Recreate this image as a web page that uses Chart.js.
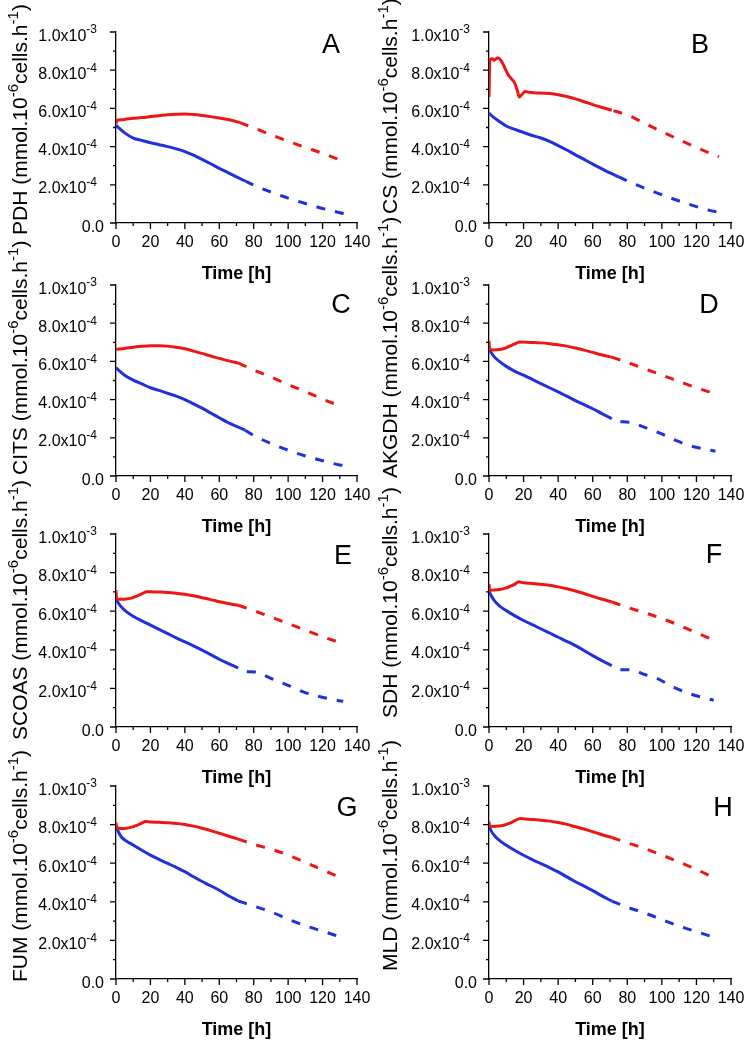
<!DOCTYPE html>
<html>
<head>
<meta charset="utf-8">
<script src="https://cdn.jsdelivr.net/npm/chart.js@4.4.0/dist/chart.umd.min.js"></script>
<style>
html, body { margin: 0; padding: 0; background: #fff; }
#wrap { position: relative; width: 753px; height: 1045px; overflow: hidden; background: #fff; }
#wrap canvas { position: absolute; }
</style>
</head>
<body>
<div id="wrap"></div>
<script>
// values are [time (h), rate in units of 1e-4 mmol.10^-6 cells.h^-1]
const UNIT = 1e-4;

const xMajor = [0, 20, 40, 60, 80, 100, 120, 140];
const xMinor = [10, 30, 50, 70, 90, 110, 130];
const yMajor = [0, 2e-4, 4e-4, 6e-4, 8e-4, 1e-3];
const yMinor = [1e-4, 3e-4, 5e-4, 7e-4, 9e-4];

const pdhRed = [[0,5.2],[0.5,5.38],[3,5.4],[6,5.44],[10,5.48],[15,5.52],[20,5.57],[25,5.62],[30,5.67],[35,5.7],[40,5.71],[45,5.68],[50,5.63],[55,5.57],[60,5.5],[65,5.42],[70,5.31],[72,5.26]];
const pdhRedDash = [[72,5.26],[80,4.98],[90,4.62],[100,4.28],[110,3.96],[120,3.65],[131,3.27]];
const pdhBlue = [[0,5.12],[2,4.95],[5,4.72],[10,4.45],[15,4.32],[20,4.2],[25,4.1],[30,4.0],[35,3.88],[40,3.74],[45,3.55],[50,3.33],[55,3.1],[60,2.86],[65,2.64],[70,2.42],[75,2.2]];
const pdhBlueDash = [[75,2.2],[80,1.98],[90,1.62],[100,1.3],[110,1.02],[120,0.76],[130,0.54],[135,0.45]];

const csRed = [[0,6.6],[0.5,8.55],[2,8.6],[3,8.52],[5,8.65],[7,8.5],[9,8.15],[11,7.78],[13,7.55],[15,7.3],[16.5,6.9],[17.5,6.6],[19,6.72],[21,6.88],[23,6.85],[26,6.82],[30,6.8],[35,6.78],[40,6.72],[45,6.62],[50,6.5],[55,6.35],[60,6.2],[65,6.06],[71,5.9]];
const csRedDash = [[72,5.88],[80,5.66],[90,5.22],[100,4.78],[110,4.36],[120,3.96],[133,3.46]];
const csBlue = [[0,5.75],[2,5.58],[5,5.38],[10,5.08],[15,4.9],[20,4.74],[25,4.58],[30,4.45],[35,4.27],[40,4.05],[45,3.82],[50,3.57],[55,3.33],[60,3.08],[65,2.85],[70,2.62],[75,2.42]];
const csBlueDash = [[75,2.42],[80,2.2],[90,1.82],[100,1.48],[110,1.15],[120,0.86],[128,0.65],[135,0.53]];

const citsRed = [[0,6.63],[5,6.68],[10,6.74],[15,6.79],[20,6.82],[25,6.82],[30,6.8],[35,6.74],[40,6.66],[45,6.54],[50,6.42],[55,6.28],[60,6.16],[65,6.04],[71,5.92]];
const citsRedDash = [[71,5.92],[80,5.55],[90,5.18],[100,4.79],[110,4.42],[120,4.03],[131,3.62]];
const citsBlue = [[0,5.68],[2,5.5],[5,5.28],[10,5.02],[15,4.82],[20,4.62],[25,4.48],[30,4.33],[35,4.18],[40,4.0],[45,3.78],[50,3.55],[55,3.3],[60,3.05],[65,2.8],[70,2.6],[75,2.4]];
const citsBlueDash = [[75,2.4],[80,2.12],[90,1.7],[100,1.35],[110,1.05],[120,0.8],[130,0.58],[135,0.52]];

const akgdhRed = [[0,7.08],[0.4,6.62],[3,6.6],[6,6.62],[9,6.68],[12,6.8],[15,6.92],[18,7.02],[22,7.0],[26,6.99],[30,6.97],[35,6.93],[40,6.87],[45,6.8],[50,6.7],[55,6.59],[60,6.47],[65,6.35],[71,6.22]];
const akgdhRedDash = [[71,6.22],[80,5.95],[90,5.62],[100,5.28],[110,4.95],[120,4.62],[131,4.3]];
const akgdhBlue = [[0,6.68],[1,6.5],[3,6.24],[6,6.0],[10,5.74],[15,5.48],[20,5.28],[25,5.06],[30,4.84],[35,4.62],[40,4.4],[45,4.18],[50,3.95],[55,3.74],[60,3.52],[65,3.28],[71,3.0]];
const akgdhBlueDash = [[76,2.84],[81,2.82],[90,2.55],[100,2.2],[108,1.86],[117,1.57],[125,1.4],[131,1.3]];

const scoasRed = [[0,7.08],[0.4,6.62],[3,6.62],[6,6.63],[9,6.68],[12,6.78],[15,6.9],[18,7.01],[22,7.0],[26,6.99],[30,6.97],[35,6.93],[40,6.88],[45,6.8],[50,6.7],[55,6.6],[60,6.49],[65,6.4],[71,6.31]];
const scoasRedDash = [[71,6.31],[80,6.03],[90,5.7],[100,5.36],[110,5.02],[120,4.68],[131,4.35]];
const scoasBlue = [[0,6.65],[1,6.48],[3,6.23],[6,5.98],[10,5.74],[15,5.5],[20,5.28],[25,5.06],[30,4.84],[35,4.62],[40,4.41],[45,4.2],[50,3.98],[55,3.75],[60,3.51],[65,3.3],[71,3.06]];
const scoasBlueDash = [[76,2.86],[81,2.85],[90,2.52],[100,2.16],[108,1.85],[117,1.6],[125,1.44],[132,1.33]];

const sdhRed = [[0,7.4],[0.4,7.08],[3,7.1],[6,7.12],[9,7.18],[12,7.28],[15,7.4],[17,7.52],[20,7.47],[25,7.44],[30,7.4],[35,7.34],[40,7.26],[45,7.16],[50,7.05],[55,6.92],[60,6.77],[65,6.63],[71,6.48]];
const sdhRedDash = [[71,6.48],[80,6.2],[90,5.92],[100,5.62],[110,5.27],[120,4.88],[131,4.46]];
const sdhBlue = [[0,7.05],[1,6.85],[3,6.56],[6,6.28],[10,6.03],[15,5.76],[20,5.52],[25,5.3],[30,5.09],[35,4.87],[40,4.65],[45,4.44],[50,4.22],[55,3.96],[60,3.7],[65,3.45],[71,3.18]];
const sdhBlueDash = [[76,2.97],[83,2.95],[90,2.72],[96,2.57],[107,2.05],[117,1.7],[125,1.5],[130,1.39]];

const fumRed = [[0,8.1],[0.4,7.82],[3,7.8],[6,7.81],[9,7.87],[12,7.96],[15,8.08],[17,8.16],[20,8.14],[25,8.12],[30,8.1],[35,8.06],[40,8.01],[45,7.92],[50,7.81],[55,7.69],[60,7.55],[65,7.41],[71,7.25]];
const fumRedDash = [[71,7.25],[80,6.98],[90,6.73],[100,6.42],[110,6.04],[120,5.66],[131,5.22]];
const fumBlue = [[0,7.95],[1,7.7],[3,7.37],[6,7.15],[10,6.94],[15,6.67],[20,6.42],[25,6.2],[30,5.99],[35,5.78],[40,5.56],[45,5.3],[50,5.05],[55,4.83],[60,4.6],[65,4.33],[71,4.04]];
const fumBlueDash = [[71,4.04],[80,3.78],[90,3.48],[100,3.1],[110,2.76],[120,2.48],[131,2.16]];

const mldRed = [[0,8.15],[0.4,7.94],[3,7.9],[6,7.93],[9,7.98],[12,8.08],[15,8.2],[18,8.32],[20,8.3],[25,8.27],[30,8.23],[35,8.18],[40,8.11],[45,8.01],[50,7.89],[55,7.77],[60,7.63],[65,7.49],[71,7.33]];
const mldRedDash = [[71,7.33],[80,7.06],[90,6.76],[100,6.42],[110,6.06],[120,5.68],[130,5.25]];
const mldBlue = [[0,7.98],[1,7.72],[3,7.45],[6,7.18],[10,6.93],[15,6.66],[20,6.41],[25,6.19],[30,5.98],[35,5.77],[40,5.55],[45,5.29],[50,5.04],[55,4.81],[60,4.58],[65,4.32],[71,4.04]];
const mldBlueDash = [[71,4.04],[80,3.72],[90,3.42],[100,3.08],[110,2.74],[120,2.45],[130,2.17]];

const panels = [
  { name: 'PDH',   letter: 'A', red: pdhRed,   redDash: pdhRedDash,   blue: pdhBlue,   blueDash: pdhBlueDash },
  { name: 'CS',    letter: 'B', red: csRed,    redDash: csRedDash,    blue: csBlue,    blueDash: csBlueDash },
  { name: 'CITS',  letter: 'C', red: citsRed,  redDash: citsRedDash,  blue: citsBlue,  blueDash: citsBlueDash },
  { name: 'AKGDH', letter: 'D', red: akgdhRed, redDash: akgdhRedDash, blue: akgdhBlue, blueDash: akgdhBlueDash },
  { name: 'SCOAS', letter: 'E', red: scoasRed, redDash: scoasRedDash, blue: scoasBlue, blueDash: scoasBlueDash },
  { name: 'SDH',   letter: 'F', red: sdhRed,   redDash: sdhRedDash,   blue: sdhBlue,   blueDash: sdhBlueDash },
  { name: 'FUM',   letter: 'G', red: fumRed,   redDash: fumRedDash,   blue: fumBlue,   blueDash: fumBlueDash },
  { name: 'MLD',   letter: 'H', red: mldRed,   redDash: mldRedDash,   blue: mldBlue,   blueDash: mldBlueDash }
];

// page layout of each plot box, the panel letter offset and where the y title starts
const colLeft = [116, 489], colWidth = [241, 242];
const rowTop = [32, 285, 534, 786], rowHeight = [191, 191, 193, 193];
const letterPos = [[-26, 11], [-31, 11], [-16, 18], [-22, 18], [-14, 20], [-17, 19], [-10, 20], [-8, 20]];
const titleStart = [12, -9, -1, 2, 13, -9, 3, -8];
const titleGap = [89, 92];

const RED = '#ee1515';
const BLUE = '#1f30dc';
const FONT = '"Liberation Sans", Arial, sans-serif';
const PAD_TOP = 70, X_AXIS_H = 70, PAD_RIGHT = 24;

function drawRich(ctx, parts, x, y, size, bold) {
  let cx = x;
  parts.forEach(p => {
    const s = p[1] ? Math.round(size * 0.72) : size;
    ctx.font = (bold ? 'bold ' : '') + s + 'px ' + FONT;
    ctx.fillText(p[0], cx, p[1] ? y - size * 0.45 : y);
    cx += ctx.measureText(p[0]).width;
  });
  return cx - x;
}
function richWidth(ctx, parts, size) {
  let w = 0;
  parts.forEach(p => {
    ctx.font = (p[1] ? Math.round(size * 0.72) : size) + 'px ' + FONT;
    w += ctx.measureText(p[0]).width;
  });
  return w;
}
function yLabel(v) {
  if (v === 0) return [['0.0', 0]];
  const e = Math.floor(Math.log10(v) + 1e-9);
  const m = v / Math.pow(10, e);
  return [[m.toFixed(1) + 'x10', 0], [String(e), 1]];
}

const axisDecor = {
  id: 'axisDecor',
  afterDraw(chart, args, opts) {
    const ctx = chart.ctx, a = chart.chartArea, xs = chart.scales.x, ys = chart.scales.y;
    ctx.save();
    ctx.strokeStyle = '#000';
    ctx.fillStyle = '#000';
    ctx.lineWidth = 1.3;
    ctx.textBaseline = 'alphabetic';
    ctx.beginPath();
    xMajor.forEach(t => { const px = xs.getPixelForValue(t); ctx.moveTo(px, a.bottom); ctx.lineTo(px, a.bottom + 6); });
    xMinor.forEach(t => { const px = xs.getPixelForValue(t); ctx.moveTo(px, a.bottom); ctx.lineTo(px, a.bottom + 3); });
    yMajor.forEach(v => { const py = ys.getPixelForValue(v); ctx.moveTo(a.left, py); ctx.lineTo(a.left - 6, py); });
    yMinor.forEach(v => { const py = ys.getPixelForValue(v); ctx.moveTo(a.left, py); ctx.lineTo(a.left - 3, py); });
    ctx.stroke();

    // x tick labels
    ctx.font = '16px ' + FONT;
    ctx.textAlign = 'center';
    xMajor.forEach(t => ctx.fillText(String(t), xs.getPixelForValue(t), a.bottom + 24));

    // y tick labels with superscript exponents
    ctx.textAlign = 'left';
    yMajor.forEach(v => {
      const parts = yLabel(v);
      const w = richWidth(ctx, parts, 16);
      const right = a.left - (parts.length > 1 ? 19 : 12);
      drawRich(ctx, parts, right - w, ys.getPixelForValue(v) + 8.5, 16, false);
    });

    // x title
    ctx.font = 'bold 18px ' + FONT;
    ctx.textAlign = 'center';
    ctx.fillText('Time [h]', (a.left + a.right) / 2, a.bottom + 56);

    // y title, rotated
    ctx.save();
    ctx.translate(a.left - opts.gap, a.bottom + opts.start);
    ctx.rotate(-Math.PI / 2);
    ctx.textAlign = 'left';
    drawRich(ctx, [[opts.name + ' (mmol.10', 0], ['-6', 1], ['cells.h', 0], ['-1', 1], [')', 0]], 0, 0, 21, false);
    ctx.restore();

    // panel letter
    ctx.font = '27px ' + FONT;
    ctx.textAlign = 'center';
    ctx.fillText(opts.letter, a.right + opts.lx, a.top + opts.ly + 9.7);
    ctx.restore();
  }
};

function series(points, color, dashed) {
  return {
    data: points.map(p => ({ x: p[0], y: p[1] * UNIT })),
    borderColor: color,
    backgroundColor: color,
    borderWidth: 3,
    borderDash: dashed ? [9, 10] : [],
    pointRadius: 0,
    cubicInterpolationMode: 'monotone',
    fill: false
  };
}

const wrap = document.getElementById('wrap');
panels.forEach((p, i) => {
  const col = i % 2, row = Math.floor(i / 2);
  const plotW = colWidth[col], plotH = rowHeight[row];
  const yAxisW = 116;
  const canvas = document.createElement('canvas');
  const w = yAxisW + plotW + PAD_RIGHT, h = PAD_TOP + plotH + X_AXIS_H;
  canvas.width = w; canvas.height = h;
  canvas.style.width = w + 'px'; canvas.style.height = h + 'px';
  canvas.style.left = (colLeft[col] - yAxisW) + 'px';
  canvas.style.top = (rowTop[row] - PAD_TOP) + 'px';
  wrap.appendChild(canvas);

  new Chart(canvas, {
    type: 'line',
    data: {
      datasets: [
        series(p.red, RED, false),
        series(p.redDash, RED, true),
        series(p.blue, BLUE, false),
        series(p.blueDash, BLUE, true)
      ]
    },
    options: {
      responsive: false,
      animation: false,
      events: [],
      layout: { padding: { top: PAD_TOP, left: 0, right: PAD_RIGHT, bottom: 0 } },
      plugins: {
        legend: { display: false },
        tooltip: { enabled: false },
        axisDecor: {
          name: p.name, letter: p.letter,
          lx: letterPos[i][0], ly: letterPos[i][1],
          start: titleStart[i], gap: titleGap[col]
        }
      },
      scales: {
        x: {
          type: 'linear', min: 0, max: 140,
          ticks: { display: false },
          grid: { display: false },
          border: { display: true, color: '#000', width: 1.3 },
          afterFit: s => { s.height = X_AXIS_H; }
        },
        y: {
          type: 'linear', min: 0, max: 1e-3,
          ticks: { display: false },
          grid: { display: false },
          border: { display: true, color: '#000', width: 1.3 },
          afterFit: s => { s.width = yAxisW; }
        }
      }
    },
    plugins: [axisDecor]
  });
});
</script>
</body>
</html>
